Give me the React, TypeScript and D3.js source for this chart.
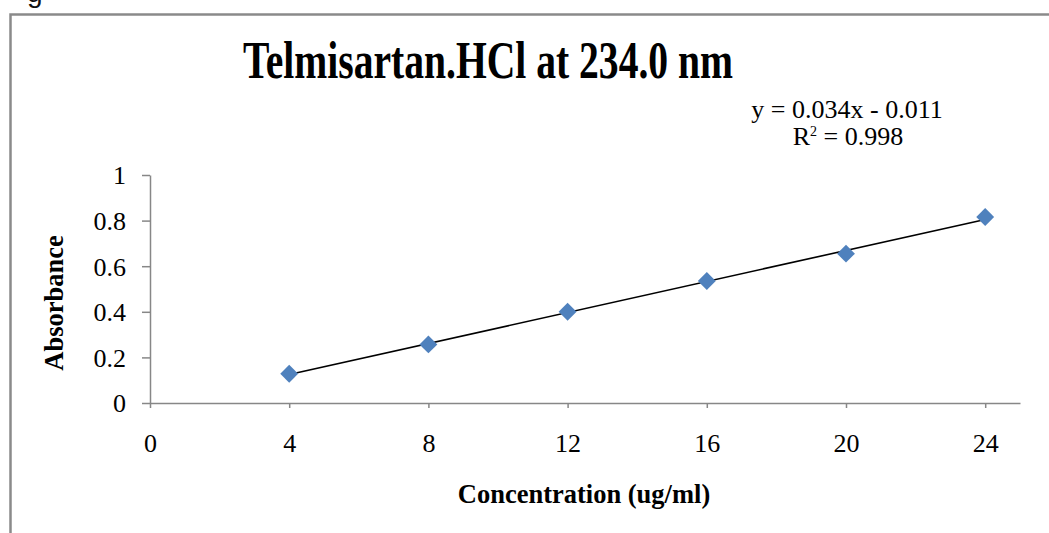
import React, { useRef, useEffect } from 'react';
import * as d3 from 'd3';

// calibration data
const concentrations = [4, 8, 12, 16, 20, 24];
const absorbances = [0.128, 0.257, 0.4, 0.535, 0.655, 0.816];
const xTicks = [0, 4, 8, 12, 16, 20, 24];
const yTicks = [0, 0.2, 0.4, 0.6, 0.8, 1];
const slope = 0.034;
const intercept = -0.011;
const rSquared = '0.998';
const titleText = 'Telmisartan.HCl at 234.0 nm';
const xLabel = 'Concentration (ug/ml)';
const yLabel = 'Absorbance';

const W = 1049;
const H = 533;
const serif = "'Liberation Serif', 'Times New Roman', serif";
const axisGrey = '#878787';

const App = () => {
  const ref = useRef<SVGSVGElement>(null);

  useEffect(() => {
    const svg = d3.select(ref.current);
    svg.selectAll('*').remove();

    svg.append('rect').attr('width', W).attr('height', H).attr('fill', '#fff');

    // cut-off caption glyph above the frame
    svg.append('text')
      .attr('x', 27).attr('y', 1.5)
      .attr('font-family', "'Liberation Sans', Arial, sans-serif")
      .attr('font-size', 28)
      .attr('fill', '#111')
      .text('g');

    // frame (runs off the right and bottom edges)
    svg.append('rect')
      .attr('x', 10.5).attr('y', 14.5)
      .attr('width', W + 20).attr('height', H + 20)
      .attr('fill', 'none')
      .attr('stroke', '#8a8a8a')
      .attr('stroke-width', 2.5);

    const x = d3.scaleLinear().domain([0, 25]).range([150, 1020]);
    const y = d3.scaleLinear().domain([0, 1]).range([403, 175]);

    const xAxis = svg.append('g')
      .attr('transform', `translate(0,${y(0)})`)
      .call(d3.axisBottom(x).tickValues(xTicks).tickSize(5).tickSizeOuter(0).tickFormat(d => String(d)));
    const yAxis = svg.append('g')
      .attr('transform', `translate(${x(0)},0)`)
      .call(d3.axisLeft(y).tickValues(yTicks).tickSize(8).tickSizeOuter(0).tickFormat(d => String(d)));

    [xAxis, yAxis].forEach(g => {
      g.select('.domain').attr('stroke', axisGrey).attr('stroke-width', 1.5);
      g.selectAll('.tick line').attr('stroke', axisGrey).attr('stroke-width', 1.5);
      g.selectAll('.tick text')
        .attr('font-family', serif)
        .attr('font-size', 26)
        .attr('fill', '#000');
    });
    xAxis.selectAll('.tick text').attr('y', 0).attr('dy', 0).attr('transform', 'translate(0,49)');
    yAxis.selectAll('.tick text').attr('x', -24).attr('dy', '0.34em');

    // trendline
    const fit = (c: number) => slope * c + intercept;
    const [c0, c1] = d3.extent(concentrations) as [number, number];
    svg.append('line')
      .attr('x1', x(c0)).attr('y1', y(fit(c0)))
      .attr('x2', x(c1)).attr('y2', y(fit(c1)))
      .attr('stroke', '#000')
      .attr('stroke-width', 1.6);

    // diamond markers
    const diamond = d3.symbol().type(d3.symbolSquare).size(160);
    svg.append('g').selectAll('path')
      .data(concentrations.map((c, i) => [c, absorbances[i]]))
      .enter()
      .append('path')
      .attr('d', diamond)
      .attr('transform', d => `translate(${x(d[0])},${y(d[1])}) rotate(45)`)
      .attr('fill', '#4f81bd');

    // title
    svg.append('text')
      .attr('x', 488).attr('y', 78)
      .attr('text-anchor', 'middle')
      .attr('font-family', serif)
      .attr('font-weight', 'bold')
      .attr('font-size', 53)
      .attr('textLength', 490)
      .attr('lengthAdjust', 'spacingAndGlyphs')
      .text(titleText);

    // equation box
    const fmt = (v: number) => v.toFixed(3);
    svg.append('text')
      .attr('x', 847).attr('y', 118)
      .attr('text-anchor', 'middle')
      .attr('font-family', serif)
      .attr('font-size', 26)
      .text(`y = ${fmt(slope)}x - ${fmt(Math.abs(intercept))}`);
    const r2 = svg.append('text')
      .attr('x', 848).attr('y', 145)
      .attr('text-anchor', 'middle')
      .attr('font-family', serif)
      .attr('font-size', 26);
    r2.append('tspan').text('R');
    r2.append('tspan').attr('font-size', 14).attr('dy', -9).text('2');
    r2.append('tspan').attr('dy', 9).text(` = ${rSquared}`);

    // axis titles
    svg.append('text')
      .attr('x', 584).attr('y', 503)
      .attr('text-anchor', 'middle')
      .attr('font-family', serif)
      .attr('font-weight', 'bold')
      .attr('font-size', 26.5)
      .text(xLabel);
    svg.append('text')
      .attr('transform', 'translate(63,303) rotate(-90)')
      .attr('text-anchor', 'middle')
      .attr('font-family', serif)
      .attr('font-weight', 'bold')
      .attr('font-size', 26.5)
      .text(yLabel);
  }, []);

  return (
    <svg ref={ref} width={W} height={H} style={{ position: 'absolute', left: 0, top: 0 }} />
  );
};

export default App;
